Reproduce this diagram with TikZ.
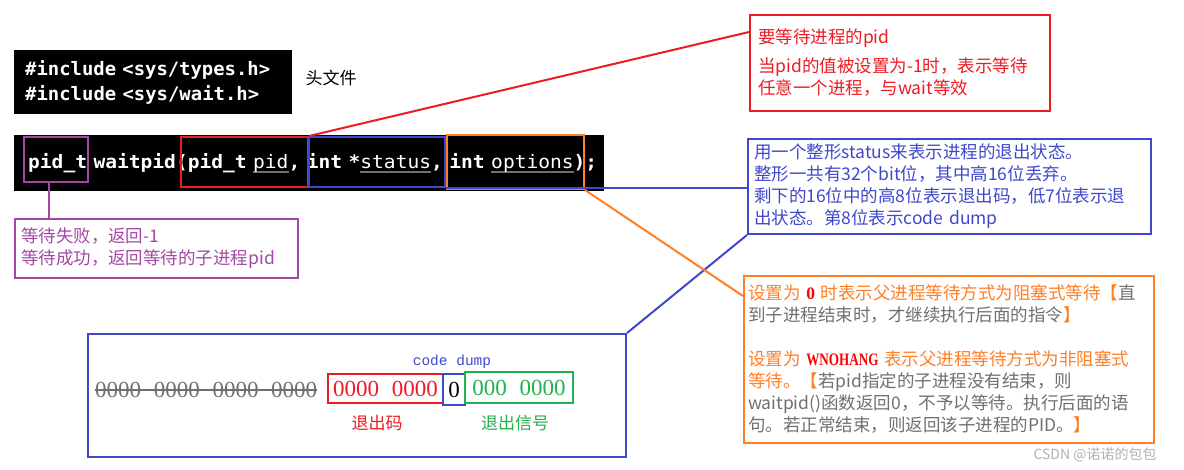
\documentclass[tikz,border=0pt]{standalone}
\usepackage{fontspec}
\usepackage{graphicx}
\usepackage{tikz}
\usetikzlibrary{shapes, arrows}
\newfontfamily\cjk{Noto Sans CJK SC}
\newfontfamily\codefont{DejaVu Sans Mono}
\newfontfamily\digitfont{Liberation Serif}
\newfontfamily\monofont{Liberation Mono}
\definecolor{pred}{HTML}{ED1C24}
\definecolor{pblue}{HTML}{3F48CC}
\definecolor{porange}{HTML}{FF7F27}
\definecolor{ppurple}{HTML}{A349A4}
\definecolor{pgreen}{HTML}{22B14C}
\definecolor{pgray}{HTML}{707070}
\newcommand\codeline[2]{\resizebox{#1}{\height}{#2}}
\newcommand\ulgray[1]{\setbox0\hbox{\mdseries #1}\rlap{\color{pgray}\rule[-4pt]{\wd0}{1.2pt}}\box0}
\newcommand\gap{\hspace{0.55em}}
\newcommand\keyword[1]{{\color{red}\digitfont\bfseries\scalebox{0.75}[1]{#1}}}
\tikzstyle{codebg} = [rectangle, fill=black, text=white, anchor=north west, align=left, inner ysep=0pt, font=\codefont\bfseries\fontsize{18.5}{25}\selectfont]
\tikzstyle{argbox} = [rectangle, draw, line width=2pt, inner sep=0pt]
\tikzstyle{note} = [rectangle, draw, line width=2pt, anchor=north west, align=left, inner ysep=0pt, font=\cjk\fontsize{17.5}{22}\selectfont]
\tikzstyle{digits} = [inner sep=0pt, font=\digitfont\fontsize{23}{23}\selectfont]
\tikzstyle{label} = [font=\cjk\fontsize{17}{17}\selectfont]
\tikzstyle{link} = [line width=2pt]

\begin{document}
\begin{tikzpicture}[x=1pt, y=-1pt]
  \useasboundingbox[fill=white] (0,0) rectangle (1184,469);
  \node (hdr) [codebg, text width=256pt, inner xsep=11pt, minimum height=64pt] at (14,50) {\codeline{245pt}{\#include <sys/types.h>}\\\codeline{234pt}{\#include <sys/wait.h>}};
  \node (hdrlabel) [label] at (331,78) {头文件};
  \node (fn) [codebg, text width=590pt, inner xsep=0pt, minimum height=56pt] at (14,135) {\hspace*{14pt}\codeline{569pt}{pid\_t waitpid(pid\_t \ulgray{pid}, int *\ulgray{status}, int \ulgray{options});}};
  \node (ret) [argbox, draw=ppurple, minimum width=64pt, minimum height=45pt] at (56,159.5) {};
  \node (pidarg) [argbox, draw=pred, minimum width=127pt, minimum height=50pt] at (244.5,162) {};
  \node (statusarg) [argbox, draw=pblue, minimum width=136pt, minimum height=50pt] at (377,162) {};
  \node (optarg) [argbox, draw=porange, minimum width=137pt, minimum height=54pt] at (515.5,162) {};

  \node (failnote) [note, draw=ppurple, text=ppurple, text width=271pt, inner xsep=6pt, minimum height=59pt] at (14,218) {等待失败，返回-1\\等待成功，返回等待的子进程pid};
  \node (pidnote) [note, draw=pred, text=pred, text width=284pt, inner xsep=8pt, minimum height=96pt] at (749,14) {要等待进程的pid\\[7pt]当pid的值被设置为-1时，表示等待\\任意一个进程，与wait等效};
  \node (statusnote) [note, draw=pblue, text=pblue, text width=391pt, inner xsep=6pt, minimum height=95pt] at (747,138) {用一个整形status来表示进程的退出状态。\\整形一共有32个bit位，其中高16位丢弃。\\剩下的16位中的高8位表示退出码，低7位表示退\\出状态。第8位表示code dump};
  \node (optnote) [note, draw=porange, text=pgray, text width=402pt, inner xsep=4pt, minimum height=167pt] at (743,275) {{\color{porange}设置为 {\color{red}\digitfont\bfseries 0} 时表示父进程等待方式为阻塞式等待【}直\\到子进程结束时，才继续执行后面的指令{\color{porange}】}\\[22pt]{\color{porange}设置为 \keyword{WNOHANG} 表示父进程等待方式为非阻塞式}\\{\color{porange}等待。【}若pid指定的子进程没有结束，则\\waitpid()函数返回0，不予以等待。执行后面的语\\句。若正常结束，则返回该子进程的PID。{\color{porange}】}};

  \node (bits) [argbox, draw=pblue, minimum width=538pt, minimum height=123pt, anchor=north west] at (87,333) {};
  \node (upper) [digits, text=pgray, anchor=west] at (95,390) {0000\gap 0000\gap 0000\gap 0000};
  \node (exitcode) [argbox, digits, draw=pred, text=pred, minimum width=115pt, minimum height=29pt] at (385.5,388.5) {0000\gap 0000};
  \node (core) [argbox, digits, draw=pblue, text=black, minimum width=22pt, minimum height=31pt] at (454,389.5) {0};
  \node (sig) [argbox, digits, draw=pgreen, text=pgreen, minimum width=108pt, minimum height=31pt] at (519,387.5) {000\gap 0000};
  \node (cdlabel) [text=pblue, font=\monofont\fontsize{14.5}{14.5}\selectfont] at (452,362) {code dump};
  \node (exitlabel) [label, text=pred] at (377,423) {退出码};
  \node (siglabel) [label, text=pgreen] at (515,423) {退出信号};
  \node (mark) [text=black!30, font=\cjk\fontsize{14}{14}\selectfont, anchor=west] at (1030,455) {CSDN @诺诺的包包};

  %连线
  \draw [pgray, line width=1.5pt] (upper.west) -- (upper.east);
  \draw [link, ppurple] ([xshift=-7pt]ret.south) -- ([xshift=-7pt]ret.south |- failnote.north);
  \draw [link, pred] (pidarg.north east) -- ([yshift=-18pt]pidnote.north west);
  \draw [link, pblue] (statusarg.south east) -- (statusarg.south east -| statusnote.west);
  \draw [link, pblue] (statusnote.south west) -- (bits.north east);
  \draw [link, porange] (optarg.south east) -- ([yshift=-21pt]optnote.north west);
\end{tikzpicture}
\end{document}
